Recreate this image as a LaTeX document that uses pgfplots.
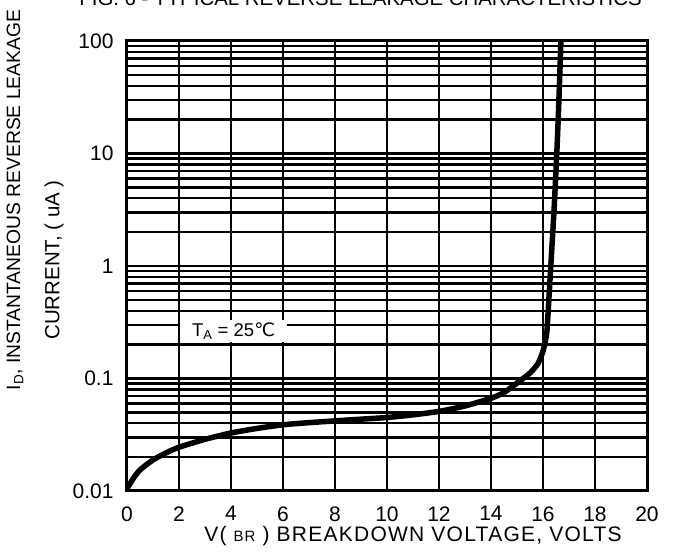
\documentclass[border=0pt]{standalone}
\usepackage{fontspec}
\setmainfont{Liberation Sans}
\newfontfamily\dejavu{DejaVu Sans}
\usepackage{pgfplots}
\pgfplotsset{compat=1.18}
\begin{document}
\begin{tikzpicture}
\begin{axis}[
    scale only axis,
    width=520pt, height=450pt,
    xmin=0, xmax=20,
    ymin=0.01, ymax=100,
    ymode=log,
    xtick={0,2,...,20},
    log ticks with fixed point,
    major tick length=0pt, minor tick length=0pt,
    xmajorgrids=true, ymajorgrids=true, yminorgrids=true,
    grid style={black, line width=2.4pt},
    major grid style={black, line width=2.4pt},
    minor grid style={black, line width=2.4pt},
    axis line style={black, line width=3pt},
    tick label style={font=\fontsize{21}{24}\selectfont},
    /pgf/number format/assume math mode=true,
    xticklabel style={yshift=-12pt},
    yticklabel style={xshift=-10pt},
  ]

  % leakage curve
  \addplot[black, line width=5.5pt, line join=round, smooth, tension=0.35] coordinates {
    (0, 0.0105)
    (0.25, 0.013)
    (0.5, 0.0154)
    (1, 0.0189)
    (1.5, 0.0218)
    (2, 0.0245)
    (3, 0.0288)
    (4, 0.0328)
    (5, 0.036)
    (6, 0.0388)
    (7, 0.0405)
    (8, 0.042)
    (9, 0.0435)
    (10, 0.045)
    (11, 0.0475)
    (12, 0.051)
    (13, 0.057)
    (14, 0.0667)
    (14.5, 0.075)
    (15, 0.091)
    (15.5, 0.112)
    (15.8, 0.135)
    (16.0, 0.175)
    (16.14, 0.25)
    (16.2, 0.4)
    (16.3, 1)
    (16.42, 3)
    (16.53, 10)
    (16.6, 25)
    (16.69, 100)
  };

  \node[fill=white, inner xsep=12pt, inner ysep=3pt,
        font=\fontsize{18.5}{20}\selectfont] at (axis cs:4.1,0.264)
        {T\textsubscript{A} = 25{\dejavu ℃}};
\end{axis}

% labels
\node[anchor=base, font=\fontsize{20.4}{24}\selectfont] at (233.5pt,485pt)
  {FIG. 6 - TYPICAL REVERSE LEAKAGE CHARACTERISTICS};
\node[rotate=90, font=\fontsize{19.3}{24}\selectfont] at (-112pt,291pt)
  {I\textsubscript{D}, INSTANTANEOUS REVERSE LEAKAGE};
\node[rotate=90, font=\fontsize{20.5}{24}\selectfont] at (-73pt,231pt)
  {CURRENT, ( uA )};
\node[anchor=base, font=\fontsize{21}{24}\selectfont\addfontfeature{LetterSpace=6}] at (286pt,-51pt)
  {V( {\fontsize{15}{18}\selectfont BR} ) BREAKDOWN VOLTAGE, VOLTS};

\pgfresetboundingbox
\path[use as bounding box] (-127pt,-65pt) rectangle (551pt,491pt);
\end{tikzpicture}
\end{document}
